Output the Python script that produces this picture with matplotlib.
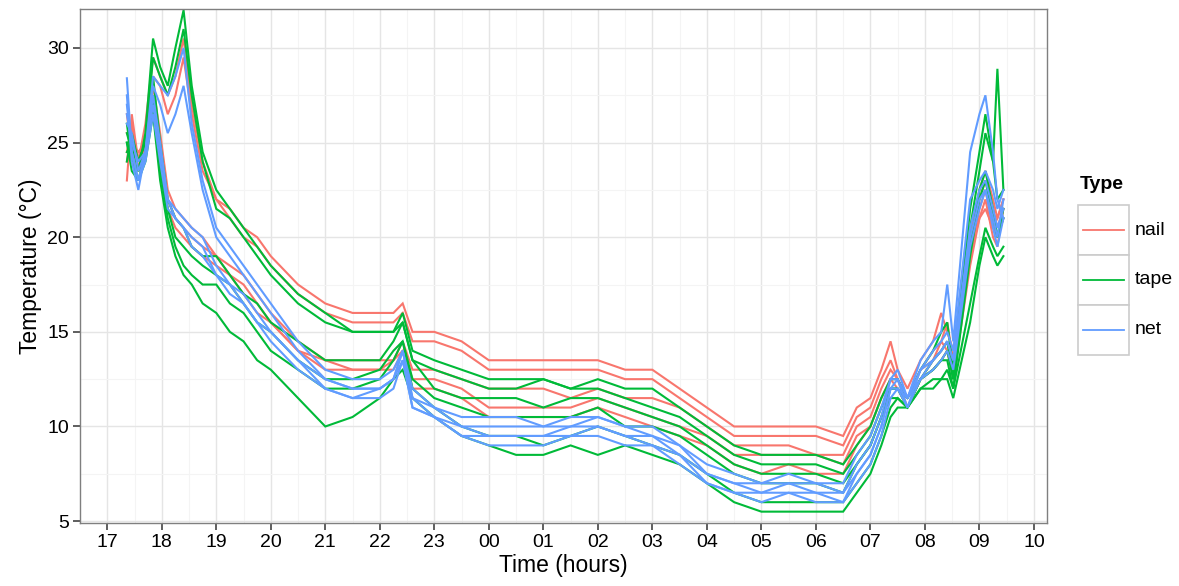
import matplotlib
matplotlib.use("Agg")
import matplotlib.pyplot as plt
from matplotlib.patches import Rectangle

plt.rcParams['font.family'] = ['Liberation Sans', 'DejaVu Sans']

# time of each reading, hours after midnight of the first day (24 = 00:00 next day)
hours = [17.36, 17.45, 17.57, 17.70, 17.84, 17.97, 18.11, 18.25, 18.40, 18.55, 18.75,
         19.00, 19.25, 19.50, 19.75, 20.00, 20.50, 21.00, 21.50, 22.00, 22.25, 22.42, 22.60,
         23.00, 23.50, 24.00, 24.50, 25.00, 25.50, 26.00, 26.50, 27.00, 27.50, 28.00, 28.50,
         29.00, 29.50, 30.00, 30.50,
         30.75, 31.00, 31.20, 31.37, 31.50, 31.68, 31.92, 32.15, 32.30, 32.41, 32.52, 32.83,
         33.00, 33.11, 33.25, 33.33, 33.44]

# nail loggers
nail_1 = [23.0, 26.5, 24.0, 26.0, 29.5, 28.5, 27.5, 28.5, 30.5, 27.0, 24.0,
          22.0, 21.5, 20.5, 20.0, 19.0, 17.5, 16.5, 16.0, 16.0, 16.0, 16.5, 15.0,
          15.0, 14.5, 13.5, 13.5, 13.5, 13.5, 13.5, 13.0, 13.0, 12.0, 11.0, 10.0, 10.0, 10.0, 10.0, 9.5,
          11.0, 11.5, 13.0, 14.5, 13.0, 12.0, 13.5, 14.5, 16.0, 15.0, 14.0, 20.0, 22.5, 23.5, 22.0, 21.0, 22.0]
nail_2 = [24.5, 26.0, 23.5, 25.5, 28.5, 28.0, 26.5, 27.5, 29.5, 26.5, 23.5,
          22.0, 21.0, 20.0, 19.5, 18.5, 17.0, 16.0, 15.5, 15.5, 15.5, 16.0, 14.5,
          14.5, 14.0, 13.0, 13.0, 13.0, 13.0, 13.0, 12.5, 12.5, 11.5, 10.5, 9.5, 9.5, 9.5, 9.5, 9.0,
          10.5, 11.0, 12.5, 13.5, 12.5, 11.5, 13.0, 14.0, 14.5, 15.5, 13.5, 19.5, 22.0, 23.0, 21.5, 20.5, 21.5]
nail_3 = [24.0, 26.0, 23.5, 25.0, 28.0, 25.5, 22.5, 21.5, 21.0, 20.5, 20.0,
          19.0, 18.5, 18.0, 17.0, 16.0, 14.5, 13.5, 13.5, 13.5, 13.5, 14.5, 13.0,
          13.0, 12.5, 12.0, 12.0, 12.0, 11.5, 12.0, 11.5, 11.5, 11.0, 10.0, 9.0, 9.0, 9.0, 8.5, 8.5,
          10.0, 10.5, 12.0, 13.0, 12.5, 11.5, 13.0, 13.5, 14.5, 14.0, 13.5, 19.0, 21.5, 22.5, 20.5, 20.0, 21.0]
nail_4 = [25.5, 25.0, 24.5, 25.0, 27.0, 24.5, 22.0, 21.0, 20.5, 20.0, 19.5,
          19.0, 18.0, 17.5, 16.5, 15.5, 14.0, 13.5, 13.0, 13.0, 13.5, 14.0, 12.5,
          12.5, 12.0, 11.0, 11.0, 11.0, 11.0, 11.5, 11.0, 10.5, 10.0, 9.5, 8.5, 8.5, 8.5, 8.5, 8.0,
          9.5, 10.0, 11.5, 12.5, 12.5, 11.0, 12.5, 13.5, 14.0, 14.5, 13.0, 19.0, 21.0, 22.0, 20.0, 19.5, 21.5]
nail_5 = [26.5, 24.5, 23.5, 24.5, 27.5, 24.0, 21.5, 20.5, 20.0, 19.5, 19.0,
          18.5, 18.0, 17.0, 16.0, 15.5, 14.0, 13.0, 13.0, 13.0, 13.0, 14.0, 12.0,
          12.0, 11.5, 10.5, 10.5, 10.5, 10.5, 11.0, 10.5, 10.0, 9.5, 9.0, 8.0, 7.5, 8.0, 7.5, 7.5,
          9.0, 10.0, 11.5, 12.5, 12.0, 11.0, 12.5, 13.0, 13.5, 14.0, 12.5, 18.5, 21.0, 21.5, 20.5, 21.0, 22.0]

# tape loggers
tape_1 = [25.0, 24.0, 23.5, 25.5, 30.5, 29.0, 28.0, 30.0, 32.0, 28.0, 24.5,
          22.5, 21.5, 20.5, 19.5, 18.5, 17.0, 16.0, 15.0, 15.0, 15.0, 16.0, 14.0,
          13.5, 13.0, 12.5, 12.5, 12.5, 12.0, 12.5, 12.0, 12.0, 11.0, 10.0, 9.0, 8.5, 8.5, 8.5, 8.0,
          9.0, 10.0, 11.5, 12.5, 12.5, 11.5, 13.0, 14.0, 15.0, 15.5, 13.0, 21.5, 24.5, 26.5, 24.0, 22.0, 22.5]
tape_2 = [24.0, 25.5, 24.0, 25.0, 29.5, 28.5, 27.5, 29.0, 31.0, 27.5, 24.0,
          21.5, 21.0, 20.0, 19.0, 18.0, 16.5, 15.5, 15.0, 15.0, 15.0, 15.5, 13.5,
          13.0, 12.5, 12.0, 12.0, 12.5, 12.0, 12.0, 11.5, 11.0, 10.5, 9.5, 8.5, 8.0, 8.0, 8.0, 7.5,
          8.5, 9.5, 11.0, 12.0, 12.0, 11.0, 12.5, 13.5, 14.0, 14.5, 12.5, 20.5, 23.5, 25.5, 24.0, 28.9, 22.5]
tape_3 = [25.5, 24.5, 24.0, 25.0, 28.5, 25.0, 22.0, 21.0, 20.5, 19.5, 19.0,
          19.0, 18.0, 17.0, 16.5, 15.5, 14.5, 13.5, 13.5, 13.5, 14.5, 15.5, 13.5,
          12.0, 11.5, 11.5, 11.5, 11.0, 11.5, 11.5, 11.0, 10.5, 10.0, 9.0, 8.0, 7.5, 7.5, 7.5, 7.0,
          8.0, 9.0, 10.5, 12.0, 12.0, 11.5, 12.5, 13.0, 13.5, 14.0, 12.5, 19.5, 22.5, 23.5, 21.5, 20.0, 21.5]
tape_4 = [24.5, 25.0, 23.5, 24.5, 27.5, 24.0, 21.5, 20.0, 19.5, 19.0, 18.5,
          18.0, 17.5, 16.5, 15.5, 15.0, 13.5, 12.5, 12.5, 13.0, 14.0, 14.5, 12.5,
          11.5, 11.0, 10.5, 10.5, 10.5, 10.5, 11.0, 10.0, 10.0, 9.5, 8.5, 7.5, 7.0, 7.0, 7.0, 6.5,
          8.0, 9.0, 10.5, 11.5, 11.5, 11.0, 12.5, 13.0, 13.5, 13.5, 12.0, 19.0, 22.0, 23.0, 21.0, 20.0, 21.0]
tape_5 = [26.0, 24.0, 23.0, 24.5, 27.0, 23.5, 21.0, 19.5, 18.5, 18.0, 17.5,
          17.5, 16.5, 16.0, 15.0, 14.0, 13.0, 12.0, 12.0, 12.5, 13.5, 14.5, 12.0,
          11.0, 10.0, 9.5, 9.5, 9.0, 9.5, 10.0, 9.5, 9.0, 8.5, 7.5, 6.5, 6.0, 6.0, 6.0, 6.0,
          7.0, 8.0, 9.5, 11.0, 11.5, 11.0, 12.0, 12.5, 12.5, 13.0, 12.0, 16.5, 19.0, 20.5, 19.5, 19.0, 19.5]
tape_6 = [25.0, 23.5, 23.0, 24.0, 26.5, 23.0, 20.5, 19.0, 18.0, 17.5, 16.5,
          16.0, 15.0, 14.5, 13.5, 13.0, 11.5, 10.0, 10.5, 11.5, 12.5, 13.0, 11.5,
          10.5, 9.5, 9.0, 8.5, 8.5, 9.0, 8.5, 9.0, 8.5, 8.0, 7.0, 6.0, 5.5, 5.5, 5.5, 5.5,
          6.5, 7.5, 9.0, 10.5, 11.0, 11.0, 12.0, 12.0, 12.5, 12.5, 11.5, 15.5, 18.5, 20.0, 19.0, 18.5, 19.0]

# net loggers
net_1 = [28.4, 24.5, 23.0, 24.5, 28.5, 28.0, 27.5, 28.5, 30.0, 26.0, 23.0,
         20.5, 19.5, 18.5, 17.5, 16.5, 14.5, 13.0, 12.5, 12.5, 13.0, 14.0, 12.0,
         11.0, 10.5, 10.5, 10.5, 10.0, 10.5, 10.5, 10.0, 10.0, 9.0, 8.0, 7.5, 7.0, 7.5, 7.0, 7.0,
         8.5, 9.5, 11.0, 12.5, 13.0, 11.5, 13.5, 14.5, 15.0, 17.5, 14.5, 24.5, 26.5, 27.5, 24.5, 22.0, 21.0]
net_2 = [26.5, 25.0, 24.0, 24.5, 28.0, 27.0, 25.5, 26.5, 28.0, 25.5, 22.5,
         20.0, 19.0, 18.0, 17.0, 16.0, 14.0, 12.5, 12.0, 12.0, 12.5, 14.0, 11.5,
         11.0, 10.0, 10.0, 10.0, 10.0, 10.0, 10.5, 10.0, 9.5, 9.0, 7.5, 7.0, 7.0, 7.0, 7.0, 6.5,
         8.0, 9.0, 10.5, 12.5, 12.5, 11.5, 13.0, 14.0, 14.5, 15.0, 14.0, 22.0, 23.0, 23.5, 22.5, 21.5, 22.5]
net_3 = [27.5, 24.0, 22.5, 24.5, 27.5, 25.0, 22.0, 21.5, 21.0, 20.5, 20.0,
         18.5, 17.5, 17.0, 16.0, 15.0, 13.5, 12.5, 12.0, 12.0, 12.5, 14.0, 11.5,
         10.5, 10.0, 9.5, 9.5, 9.5, 10.0, 10.0, 9.5, 9.5, 8.5, 7.5, 7.0, 6.5, 7.0, 6.5, 6.5,
         7.5, 8.5, 10.0, 12.0, 12.5, 11.0, 13.0, 13.5, 14.0, 14.5, 13.5, 20.5, 22.5, 23.0, 21.5, 20.5, 21.5]
net_4 = [26.0, 25.5, 23.5, 24.5, 27.0, 24.5, 22.0, 21.0, 20.5, 20.0, 19.5,
         18.0, 17.5, 16.5, 15.5, 15.0, 13.5, 12.0, 11.5, 12.0, 12.5, 13.5, 11.0,
         10.5, 9.5, 9.5, 9.5, 9.5, 9.5, 10.0, 9.5, 9.0, 8.5, 7.0, 6.5, 6.5, 6.5, 6.5, 6.0,
         7.5, 8.5, 10.0, 12.0, 12.0, 11.5, 12.5, 13.5, 14.0, 14.5, 13.5, 20.0, 22.0, 22.5, 20.5, 19.5, 21.0]
net_5 = [27.0, 24.5, 23.0, 24.0, 26.5, 24.0, 21.5, 21.0, 20.5, 19.5, 19.0,
         18.0, 17.0, 16.5, 15.5, 14.5, 13.0, 12.0, 11.5, 11.5, 12.0, 13.5, 11.0,
         10.5, 9.5, 9.0, 9.0, 9.0, 9.5, 9.5, 9.0, 9.0, 8.0, 7.0, 6.5, 6.0, 6.5, 6.0, 6.0,
         7.0, 8.0, 9.5, 11.5, 12.0, 11.0, 12.5, 13.0, 13.5, 14.0, 13.0, 19.5, 21.5, 22.5, 21.0, 20.0, 22.0]

types = ["nail", "tape", "net"]
colors = ["#F8766D", "#00BA38", "#619CFF"]
series = [[nail_1, nail_2, nail_3, nail_4, nail_5],
          [tape_1, tape_2, tape_3, tape_4, tape_5, tape_6],
          [net_1, net_2, net_3, net_4, net_5]]

x_ticks = list(range(17, 35))
x_labels = ["%02d" % (h % 24) for h in x_ticks]
y_ticks = [5, 10, 15, 20, 25, 30]

fig = plt.figure(figsize=(11.79, 5.86), dpi=100)
ax = fig.add_axes([80 / 1179, 63 / 586, 967 / 1179, 514 / 586])

for group, col in zip(series, colors):
    for vals in group:
        ax.plot(hours, vals, color=col, lw=1.5, solid_joinstyle="miter")

ax.set_xlim(16.6, 34.24)
ax.set_ylim(4.9, 32.06)
ax.set_xticks(x_ticks)
ax.set_xticklabels(x_labels)
ax.set_yticks(y_ticks)
ax.set_xticks([h + 0.5 for h in x_ticks[:-1]] + [16.5], minor=True)
ax.set_yticks([7.5, 12.5, 17.5, 22.5, 27.5], minor=True)
ax.grid(which="major", color="#E5E5E5", lw=1.0)
ax.grid(which="minor", color="#F4F4F4", lw=0.8)
ax.set_axisbelow(True)
for s in ax.spines.values():
    s.set_color("#7F7F7F")
    s.set_linewidth(1.0)
ax.tick_params(which="major", length=5, width=1.1, color="#333333", labelsize=14, pad=3)
ax.tick_params(which="minor", length=0)
ax.set_xlabel("Time (hours)", fontsize=16.5, labelpad=2)
ax.set_ylabel("Temperature (°C)", fontsize=16.5, labelpad=4)

# legend drawn ggplot style: one boxed key per type
fig.text(1080 / 1179, 1 - 185 / 586, "Type", fontsize=14, fontweight="bold", va="center", ha="left")
key_h = 50
for i, (name, col) in enumerate(zip(types, colors)):
    top = 205 + i * key_h
    fig.patches.append(Rectangle((1078 / 1179, 1 - (top + key_h) / 586), 51 / 1179, key_h / 586,
                                 transform=fig.transFigure, facecolor="white",
                                 edgecolor="#CCCCCC", lw=1.2))
    mid = 1 - (top + key_h / 2) / 586
    fig.lines.append(plt.Line2D([1083 / 1179, 1124 / 1179], [mid, mid], transform=fig.transFigure,
                                color=col, lw=1.3))
    fig.text(1135 / 1179, mid, name, fontsize=14, va="center", ha="left")

fig.savefig("out.png", dpi=100)
